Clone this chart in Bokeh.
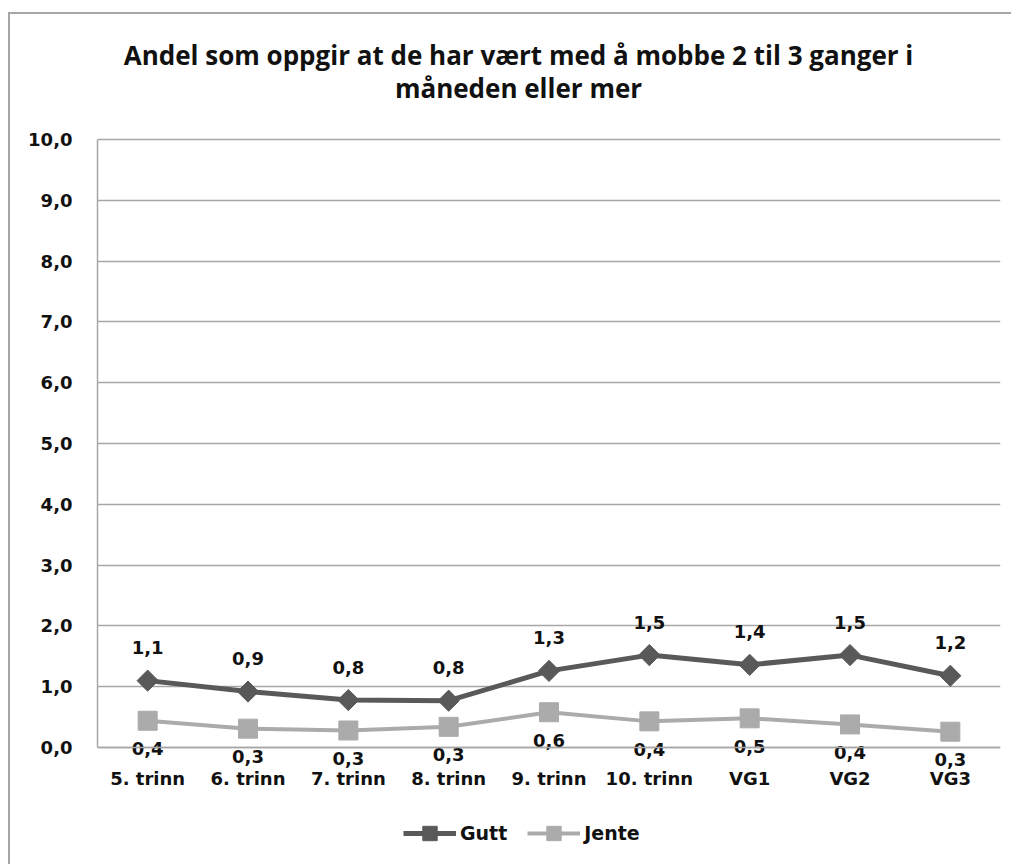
from bokeh.plotting import figure
from bokeh.models import ColumnDataSource, FactorRange, Legend, LegendItem, FixedTicker, Label
from bokeh.core.properties import value
from bokeh.embed import file_html
from bokeh.resources import INLINE

categories = ["5. trinn", "6. trinn", "7. trinn", "8. trinn", "9. trinn",
              "10. trinn", "VG1", "VG2", "VG3"]
gutt = [1.10, 0.92, 0.78, 0.77, 1.26, 1.52, 1.36, 1.52, 1.18]
jente = [0.44, 0.31, 0.28, 0.34, 0.58, 0.43, 0.48, 0.38, 0.26]
y_ticks = [0, 1, 2, 3, 4, 5, 6, 7, 8, 9, 10]
title_lines = ["Andel som oppgir at de har vært med å mobbe 2 til 3 ganger i",
               "måneden eller mer"]

def fmt(v):
    return f"{v:.1f}".replace(".", ",")

FONT = "DejaVu Sans"
TFONT = "Open Sans"
GUTT_C = "#595959"
JENTE_C = "#ababab"
GRID_C = "#a6a6a6"

src = ColumnDataSource(dict(
    x=categories, gutt=gutt, jente=jente,
    gl=[fmt(v) for v in gutt], jl=[fmt(v) for v in jente],
))

# canvas spans page y 14..866; value 0 at page y 747, 10 at page y 139
p = figure(x_range=FactorRange(*categories), y_range=(-1.957, 12.056),
           width=1003, height=852, output_backend="svg", toolbar_location=None,
           min_border_left=87, min_border_right=13, min_border_top=0,
           min_border_bottom=0)
p.styles = {"border-left": "2px solid #a6a6a6", "border-top": "2px solid #a6a6a6",
            "margin-left": "8px", "margin-top": "12px"}
p.outline_line_color = None
p.xgrid.grid_line_color = None
p.ygrid.grid_line_color = GRID_C
p.ygrid.grid_line_width = 1.5

p.yaxis.ticker = FixedTicker(ticks=y_ticks)
p.yaxis.major_label_overrides = {t: fmt(t) for t in y_ticks}
p.yaxis.bounds = (0, 10)
p.xaxis.fixed_location = 0
for ax in (p.xaxis[0], p.yaxis[0]):
    ax.axis_line_color = GRID_C
    ax.axis_line_width = 1.5
    ax.major_tick_line_color = None
    ax.minor_tick_line_color = None
    ax.major_label_text_font = FONT
    ax.major_label_text_font_style = "bold"
    ax.major_label_text_font_size = "18px"
    ax.major_label_text_color = "#111111"
p.yaxis.major_label_standoff = 19
p.xaxis.major_label_standoff = 14

gl = p.line("x", "gutt", source=src, line_color=GUTT_C, line_width=5)
gm = p.scatter("x", "gutt", source=src, marker="square", angle=0.785398,
               size=15, fill_color=GUTT_C, line_color=GUTT_C)
jl = p.line("x", "jente", source=src, line_color=JENTE_C, line_width=4)
jm = p.scatter("x", "jente", source=src, marker="square", size=19,
               fill_color=JENTE_C, line_color=JENTE_C)

p.text("x", "gutt", text="gl", source=src, y_offset=-33, text_align="center",
       text_baseline="middle", text_font=value(FONT), text_font_style="bold",
       text_font_size="18px", text_color="#111111")
p.text("x", "jente", text="jl", source=src, y_offset=28, text_align="center",
       text_baseline="middle", text_font=value(FONT), text_font_style="bold",
       text_font_size="18px", text_color="#111111")

for txt, ty in ((title_lines[0], 812), (title_lines[1], 779)):
    p.add_layout(Label(x=421, y=ty, x_units="screen", y_units="screen", text=txt,
                       text_align="center", text_baseline="middle",
                       text_font=TFONT, text_font_style="bold",
                       text_font_size="26px", text_color="#111111"))

legend = Legend(items=[LegendItem(label="Gutt", renderers=[gl, gm]),
                       LegendItem(label="Jente", renderers=[jl, jm])],
                orientation="horizontal", location=(306, 15),
                background_fill_alpha=0, border_line_color=None,
                label_text_font=FONT, label_text_font_style="bold",
                label_text_font_size="19px", label_text_color="#111111",
                label_height=36,
                glyph_width=53, glyph_height=36, label_standoff=4, spacing=20,
                padding=0, margin=0)
p.add_layout(legend, "center")

open("out.html", "w").write(file_html(p, INLINE))
